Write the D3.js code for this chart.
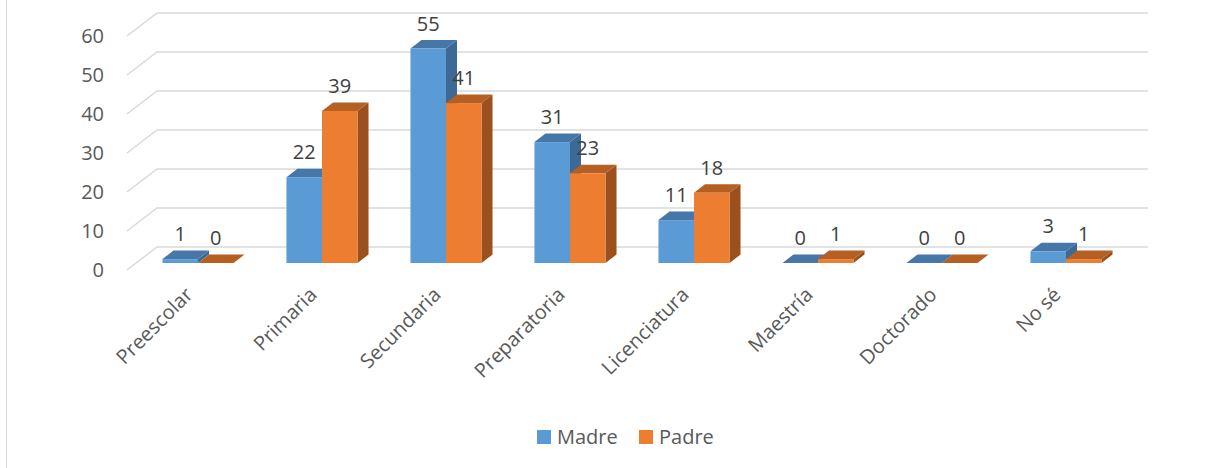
<!DOCTYPE html>
<html>
<head>
<meta charset="utf-8">
<script src="https://cdn.jsdelivr.net/npm/d3@7/dist/d3.min.js"></script>
<style>
  html, body { margin: 0; padding: 0; background: #fff; }
  svg { display: block; font-family: 'Open Sans', 'Liberation Sans', sans-serif; }
</style>
</head>
<body>
<div id="chart"></div>
<script>
var categories = ['Preescolar', 'Primaria', 'Secundaria', 'Preparatoria', 'Licenciatura', 'Maestría', 'Doctorado', 'No sé'];
var series = ['Madre', 'Padre'];
var madre = [1, 22, 55, 31, 11, 0, 0, 3];
var padre = [0, 39, 41, 23, 18, 1, 0, 1];
var yTicks = [0, 10, 20, 30, 40, 50, 60];

function Column3D(option) {
  this.width = option.width || 0;
  this.height = option.height || 0;
  this.colors = option.colors;

  // 透视: 背墙相对前面的偏移
  this.wallDx = 30;
  this.wallDy = -23;
  // 柱子深度
  this.barDx = 11;
  this.barDy = -8.5;
  this.barLift = -7;

  this.chart = d3.select(option.el)
    .append('svg')
    .attr('width', this.width)
    .attr('height', this.height);

  this.y = d3.scaleLinear().domain([0, 60]).range([270, 36]);
  this.x = d3.scaleBand()
    .domain(categories)
    .range([136, 1128])
    .paddingInner(0.427)
    .paddingOuter(0.2135);
  this.xInner = d3.scaleBand()
    .domain(series)
    .range([0, this.x.bandwidth()]);
}

Column3D.prototype._drawFrame = function () {
  this.chart.append('line')
    .attr('x1', 6.5).attr('x2', 6.5)
    .attr('y1', 0).attr('y2', this.height)
    .attr('stroke', '#d9d9d9')
    .attr('stroke-width', 1);
};

Column3D.prototype._drawGrid = function () {
  var self = this;
  var g = this.chart.append('g').attr('class', 'grid');
  var x0 = 127, x1 = 1148 - this.wallDx;

  g.selectAll('path')
    .data(yTicks)
    .enter()
    .append('path')
    .attr('d', function (d) {
      var yf = self.y(d);
      return 'M' + x0 + ',' + yf +
        'L' + (x0 + self.wallDx) + ',' + (yf + self.wallDy) +
        'L' + (x1 + self.wallDx) + ',' + (yf + self.wallDy);
    })
    .attr('fill', 'none')
    .attr('stroke', '#d9d9d9')
    .attr('stroke-width', 1.5);

  this.chart.append('g')
    .attr('class', 'yAxis')
    .selectAll('text')
    .data(yTicks)
    .enter()
    .append('text')
    .attr('x', 104)
    .attr('y', function (d) { return self.y(d); })
    .attr('dy', '0.36em')
    .attr('text-anchor', 'end')
    .attr('font-size', 20)
    .attr('fill', '#595959')
    .text(function (d) { return d; });
};

Column3D.prototype._drawBars = function () {
  var self = this;
  var w = this.xInner.bandwidth();
  var dx = this.barDx, dy = this.barDy;

  var rows = [];
  categories.forEach(function (c, i) {
    rows.push({ cat: c, key: 'Madre', value: madre[i] });
    rows.push({ cat: c, key: 'Padre', value: padre[i] });
  });

  var bars = this.chart.append('g')
    .attr('class', 'bars')
    .selectAll('g')
    .data(rows)
    .enter()
    .append('g');

  bars.each(function (d) {
    var g = d3.select(this);
    var col = self.colors[d.key];
    var x0 = self.x(d.cat) + self.xInner(d.key);
    var yb = self.y(0) + self.barLift;
    var yt = self.y(d.value) + self.barLift;

    // 侧面
    g.append('path')
      .attr('d', 'M' + (x0 + w) + ',' + yb + 'L' + (x0 + w + dx) + ',' + (yb + dy) +
        'L' + (x0 + w + dx) + ',' + (yt + dy) + 'L' + (x0 + w) + ',' + yt + 'Z')
      .attr('fill', col.side);
    // 顶面
    g.append('path')
      .attr('d', 'M' + x0 + ',' + yt + 'L' + (x0 + w) + ',' + yt +
        'L' + (x0 + w + dx) + ',' + (yt + dy) + 'L' + (x0 + dx) + ',' + (yt + dy) + 'Z')
      .attr('fill', col.top);
    // 正面
    if (yb - yt > 0) {
      g.append('rect')
        .attr('x', x0)
        .attr('y', yt)
        .attr('width', w)
        .attr('height', yb - yt)
        .attr('fill', col.front);
    }
  });

  this.chart.append('g')
    .attr('class', 'labels')
    .selectAll('text')
    .data(rows)
    .enter()
    .append('text')
    .attr('x', function (d) { return self.x(d.cat) + self.xInner(d.key) + w / 2; })
    .attr('y', function (d) { return self.y(d.value) + self.barLift + dy - 9.5; })
    .attr('text-anchor', 'middle')
    .attr('font-size', 20)
    .attr('fill', '#404040')
    .text(function (d) { return d.value; });
};

Column3D.prototype._drawXAxis = function () {
  var self = this;
  this.chart.append('g')
    .attr('class', 'xAxis')
    .selectAll('text')
    .data(categories)
    .enter()
    .append('text')
    .attr('transform', function (d) {
      var cx = self.x(d) + self.x.bandwidth() / 2 - 4;
      return 'translate(' + cx + ',296) rotate(-45)';
    })
    .attr('text-anchor', 'end')
    .attr('font-size', 20)
    .attr('fill', '#595959')
    .text(function (d) { return d; });
};

Column3D.prototype._drawLegend = function () {
  var self = this;
  var pos = { Madre: 537, Padre: 639 };
  var g = this.chart.append('g').attr('class', 'legend');
  var items = g.selectAll('g')
    .data(series)
    .enter()
    .append('g')
    .attr('transform', function (d) { return 'translate(' + pos[d] + ',430)'; });
  items.append('rect')
    .attr('width', 14)
    .attr('height', 14)
    .attr('fill', function (d) { return self.colors[d].front; });
  items.append('text')
    .attr('x', 20)
    .attr('y', 13.5)
    .attr('font-size', 20)
    .attr('fill', '#595959')
    .text(function (d) { return d; });
};

Column3D.prototype.render = function () {
  this._drawFrame();
  this._drawGrid();
  this._drawBars();
  this._drawXAxis();
  this._drawLegend();
};

var chart = new Column3D({
  el: '#chart',
  width: 1230,
  height: 468,
  colors: {
    Madre: { front: '#5b9bd5', top: '#4677a8', side: '#3d6a95' },
    Padre: { front: '#ed7d31', top: '#b55f22', side: '#9b501d' }
  }
});
chart.render();
</script>
</body>
</html>
